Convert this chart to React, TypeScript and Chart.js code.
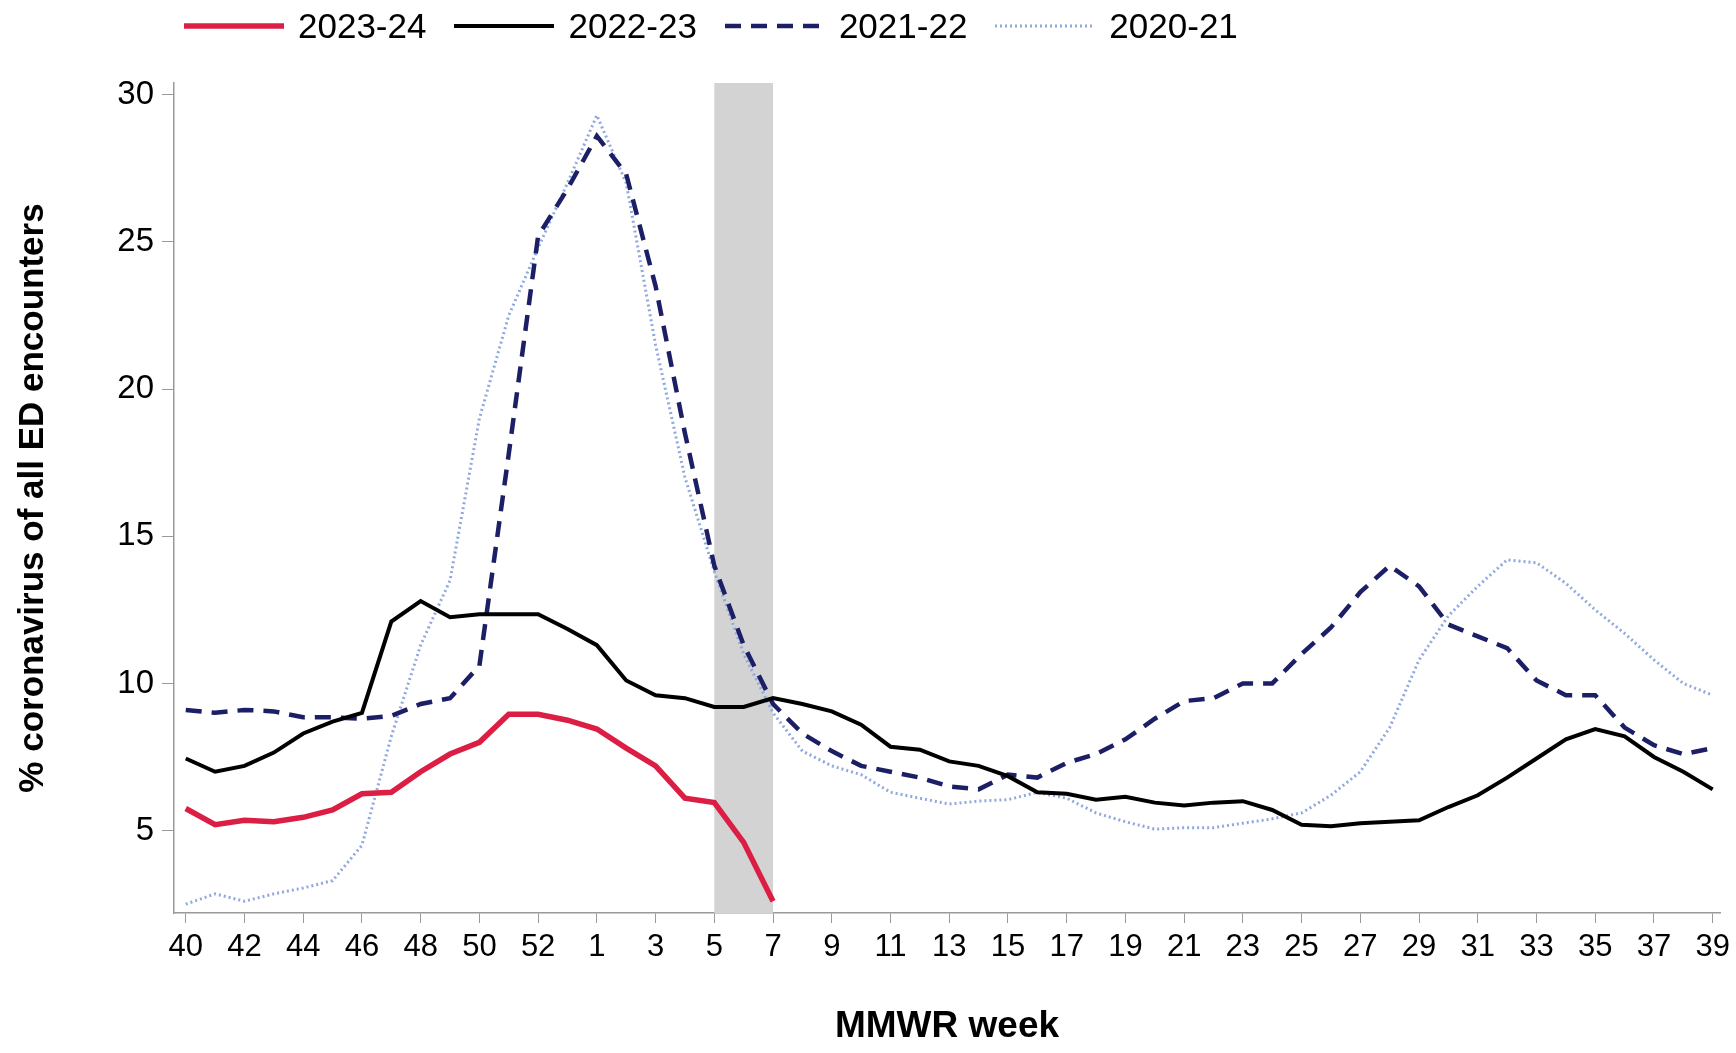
import { Chart, registerables } from "chart.js";
import { useEffect, useRef } from "react";

Chart.register(...registerables);

const weeks = [
  40, 41, 42, 43, 44, 45, 46, 47, 48, 49, 50, 51, 52, 53,
  1, 2, 3, 4, 5, 6, 7, 8, 9, 10, 11, 12, 13, 14, 15, 16, 17, 18, 19, 20,
  21, 22, 23, 24, 25, 26, 27, 28, 29, 30, 31, 32, 33, 34, 35, 36, 37, 38, 39,
];

const season2324 = [
  5.75, 5.2, 5.35, 5.3, 5.45, 5.7, 6.25, 6.3, 7.0, 7.6, 8.0, 8.95, 8.95, 8.75,
  8.45, 7.8, 7.2, 6.1, 5.95, 4.6, 2.6,
];

const season2223 = [
  7.45, 7.0, 7.2, 7.65, 8.3, 8.7, 9.0, 12.1, 12.8, 12.25, 12.35, 12.35, 12.35, 11.85,
  11.3, 10.1, 9.6, 9.5, 9.2, 9.2, 9.5, 9.3, 9.05, 8.6, 7.85, 7.75, 7.35, 7.2, 6.85, 6.3,
  6.25, 6.05, 6.15, 5.95, 5.85, 5.95, 6.0, 5.7, 5.2, 5.15, 5.25, 5.3, 5.35, 5.8, 6.2,
  6.8, 7.45, 8.1, 8.45, 8.2, 7.5, 7.0, 6.4,
];

const season2122 = [
  9.1, 9.0, 9.1, 9.05, 8.85, 8.85, 8.8, 8.9, 9.3, 9.5, 10.6, 17.8, 25.2, 26.8,
  28.6, 27.3, 23.5, 18.5, 14.0, 11.3, 9.3, 8.3, 7.7, 7.2, 7.0, 6.8, 6.5, 6.4, 6.9, 6.8,
  7.3, 7.6, 8.1, 8.8, 9.4, 9.5, 10.0, 10.0, 11.0, 11.9, 13.1, 14.0, 13.3, 12.0, 11.6,
  11.2, 10.1, 9.6, 9.6, 8.5, 7.9, 7.6, 7.8,
];

const season2021 = [
  2.5, 2.85, 2.6, 2.85, 3.05, 3.3, 4.5, 8.2, 11.3, 13.5, 19.0, 22.5, 24.8, 27.0,
  29.3, 27.0, 21.5, 17.0, 13.8, 11.0, 9.0, 7.7, 7.2, 6.9, 6.3, 6.1, 5.9, 6.0, 6.05, 6.3,
  6.1, 5.6, 5.3, 5.05, 5.1, 5.1, 5.25, 5.4, 5.6, 6.2, 7.0, 8.5, 10.8, 12.3, 13.3,
  14.2, 14.1, 13.4, 12.5, 11.7, 10.8, 10.0, 9.6,
];

const yTicks = [5, 10, 15, 20, 25, 30];
const shadeFrom = 5;
const shadeTo = 7;

const series = [
  { label: "2023-24", data: season2324, color: "#dc1e45", width: 5.5, dash: [] as number[] },
  { label: "2022-23", data: season2223, color: "#000000", width: 4, dash: [] as number[] },
  { label: "2021-22", data: season2122, color: "#1c1f66", width: 4.5, dash: [16, 10] },
  { label: "2020-21", data: season2021, color: "#8fa8dd", width: 3, dash: [2, 3] },
];

const font = "'Liberation Sans', Arial, sans-serif";

const shadePlugin = {
  id: "shade",
  beforeDatasetsDraw(chart: any) {
    const { ctx, chartArea, scales } = chart;
    const x1 = scales.x.getPixelForValue(weeks.indexOf(shadeFrom));
    const x2 = scales.x.getPixelForValue(weeks.indexOf(shadeTo));
    ctx.save();
    ctx.fillStyle = "#d3d3d3";
    ctx.fillRect(x1, chartArea.top, x2 - x1, chartArea.bottom - chartArea.top);
    ctx.restore();
  },
};

export default function App() {
  const canvasRef = useRef<HTMLCanvasElement | null>(null);

  useEffect(() => {
    if (!canvasRef.current) return;
    const chart = new Chart(canvasRef.current, {
      type: "line",
      data: {
        datasets: series.map((s) => ({
          label: s.label,
          data: s.data.map((v, i) => ({ x: i, y: v })),
          borderColor: s.color,
          borderWidth: s.width,
          borderDash: s.dash,
          pointRadius: 0,
          tension: 0,
          fill: false,
        })),
      },
      options: {
        animation: false,
        responsive: false,
        layout: { padding: { top: 83, right: 15, left: 0, bottom: 0 } },
        plugins: { legend: { display: false }, tooltip: { enabled: false } },
        scales: {
          x: {
            type: "linear",
            min: -0.4,
            max: 52.25,
            afterBuildTicks: (axis: any) => {
              axis.ticks = weeks.map((_, i) => ({ value: i })).filter((t) => t.value % 2 === 0);
            },
            afterFit: (axis: any) => {
              axis.height = 140;
            },
            ticks: {
              autoSkip: false,
              maxRotation: 0,
              color: "#000",
              font: { family: font, size: 31 },
              padding: 6,
              callback: (v: any) => String(weeks[v]),
            },
            grid: { drawOnChartArea: false, drawTicks: true, tickLength: 10, color: "#9a9a9a" },
            border: { color: "#9a9a9a", width: 1.5 },
            title: {
              display: true,
              text: "MMWR week",
              color: "#000",
              font: { family: font, size: 37, weight: "bold" },
              padding: { top: 36 },
            },
          },
          y: {
            min: 2.2,
            max: 30.4,
            afterBuildTicks: (axis: any) => {
              axis.ticks = yTicks.map((v) => ({ value: v }));
            },
            afterFit: (axis: any) => {
              axis.width = 174;
            },
            ticks: {
              color: "#000",
              font: { family: font, size: 33 },
              padding: 8,
            },
            grid: { drawOnChartArea: false, drawTicks: true, tickLength: 12, color: "#9a9a9a" },
            border: { color: "#9a9a9a", width: 1.5 },
            title: {
              display: true,
              text: "% coronavirus of all ED encounters",
              color: "#000",
              font: { family: font, size: 35, weight: "bold" },
              padding: { top: 12, bottom: 12 },
            },
          },
        },
      },
      plugins: [shadePlugin],
    });
    return () => chart.destroy();
  }, []);

  return (
    <div style={{ position: "absolute", left: 0, top: 0, width: 1736, height: 1053, background: "#fff" }}>
      <canvas ref={canvasRef} width={1736} height={1053} style={{ position: "absolute", left: 0, top: 0 }} />
      <div
        style={{
          position: "absolute",
          left: 184,
          top: 6,
          display: "flex",
          alignItems: "center",
          fontFamily: font,
          fontSize: 35,
          color: "#000",
        }}
      >
        {series.map((s) => (
          <div key={s.label} style={{ display: "flex", alignItems: "center", marginRight: 28 }}>
            <svg width={100} height={40} style={{ marginRight: 14 }}>
              <line
                x1={0}
                y1={20}
                x2={100}
                y2={20}
                stroke={s.color}
                strokeWidth={s.width}
                strokeDasharray={s.dash.length ? s.dash.join(" ") : undefined}
              />
            </svg>
            <span>{s.label}</span>
          </div>
        ))}
      </div>
    </div>
  );
}
